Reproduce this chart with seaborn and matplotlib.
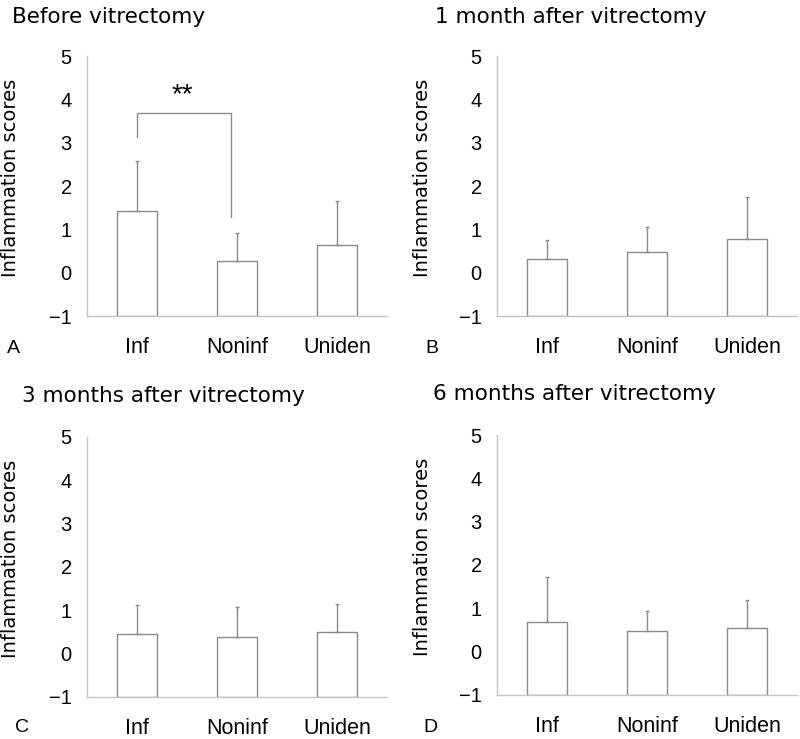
import numpy as np
import pandas as pd
import matplotlib
matplotlib.use("Agg")
import matplotlib.pyplot as plt
import seaborn as sns

# Values (mean and upward SD)
groups = ["Inf", "Noninf", "Uniden"]
titles = ["Before vitrectomy", "1 month after vitrectomy",
          "3 months after vitrectomy", "6 months after vitrectomy"]
letters = ["A", "B", "C", "D"]
mean_before = [1.42, 0.28, 0.64]
sd_before = [1.16, 0.64, 1.01]
mean_1m = [0.31, 0.48, 0.78]
sd_1m = [0.44, 0.58, 0.97]
mean_3m = [0.46, 0.38, 0.50]
sd_3m = [0.66, 0.70, 0.64]
mean_6m = [0.69, 0.48, 0.55]
sd_6m = [1.04, 0.47, 0.65]
yticks = [-1, 0, 1, 2, 3, 4, 5]

means = [mean_before, mean_1m, mean_3m, mean_6m]
sds = [sd_before, sd_1m, sd_3m, sd_6m]

sns.set_style("white")
plt.rcParams['font.family'] = ['Liberation Sans', 'DejaVu Sans']
plt.rcParams['text.color'] = 'black'
plt.rcParams['axes.labelcolor'] = 'black'
plt.rcParams['xtick.labelcolor'] = 'black'
plt.rcParams['ytick.labelcolor'] = 'black'

fig = plt.figure(figsize=(8, 7.39), dpi=100)
W, H = 800, 739

# axes boxes in pixels: left, top, right, bottom
boxes = [(87, 56, 387, 316), (497, 56, 797, 316),
         (87, 437, 387, 697), (497, 435, 797, 695)]
title_pos = [(12, 23), (435, 23), (22, 402), (433, 400)]
letter_pos = [(7, 353), (425, 353), (15, 732), (423, 732)]

grey = "#8a8a8a"
light = "#c4c4c4"

for i in range(4):
    l, t, r, b = boxes[i]
    ax = fig.add_axes([l / W, 1 - b / H, (r - l) / W, (b - t) / H])
    df = pd.DataFrame({"group": groups, "score": means[i]})
    sns.barplot(data=df, x="group", y="score", color="white", edgecolor=grey,
                linewidth=1.0, width=0.4, errorbar=None, ax=ax)
    # bars start at the bottom of the axis (-1)
    for p, v in zip(ax.patches, means[i]):
        p.set_y(-1)
        p.set_height(v + 1)
    x = np.arange(len(groups))
    ax.errorbar(x, means[i], yerr=[np.zeros(3), sds[i]], fmt="none",
                ecolor=grey, elinewidth=1.0, capsize=1.2, capthick=1.0)
    ax.set_ylim(-1, 5)
    ax.set_xlim(-0.5, 2.5)
    ax.set_yticks(yticks)
    ax.set_yticklabels(["\u22121" if v == -1 else str(v) for v in yticks],
                       family="Liberation Sans", fontsize=14.5)
    ax.set_xticks(x)
    ax.set_xticklabels(groups, family="Liberation Sans", fontsize=15.5)
    ax.set_xticks([-0.5, 0.5, 1.5, 2.5], minor=True)
    ax.tick_params(axis="x", which="major", length=0, pad=15)
    ax.tick_params(axis="x", which="minor", length=5, color=light, width=1)
    ax.tick_params(axis="y", length=7, color=light, width=1, pad=4)
    ax.set_xlabel("")
    ax.set_ylabel("Inflammation scores", fontsize=14, family="DejaVu Sans")
    ax.yaxis.set_label_coords((-67 if i % 2 == 0 else -65) / (r - l), 0.53)
    for s in ["top", "right"]:
        ax.spines[s].set_visible(False)
    for s in ["left", "bottom"]:
        ax.spines[s].set_color(light)
        ax.spines[s].set_linewidth(1)
    ax.set_facecolor("none")

    fig.text(title_pos[i][0] / W, 1 - title_pos[i][1] / H, titles[i],
             fontsize=15.5, va="baseline", ha="left", family="DejaVu Sans")
    fig.text(letter_pos[i][0] / W, 1 - letter_pos[i][1] / H, letters[i],
             fontsize=14, va="baseline", ha="left", family="Liberation Sans")

    if i == 0:
        # significance bracket between Inf and Noninf
        ax.plot([0, 0, 0.94, 0.94], [3.12, 3.69, 3.69, 1.29],
                color=grey, lw=1.0)
        ax.text(0.45, 4.1, "**", ha="center", va="center", fontsize=20,
                family="Liberation Sans")

fig.savefig("out.png", dpi=100)
